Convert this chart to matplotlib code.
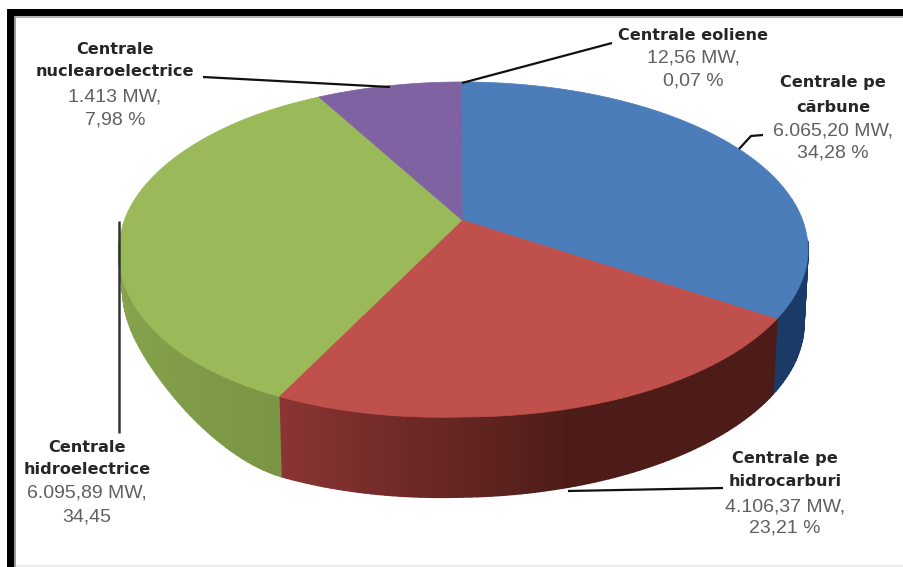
import numpy as np
import matplotlib
matplotlib.use("Agg")
import matplotlib.pyplot as plt
from matplotlib.collections import PolyCollection
from matplotlib.patches import Polygon, Rectangle
from matplotlib.colors import to_rgb

# Installed capacity by plant type, clockwise from twelve o'clock
categories = ["Centrale pe\ncărbune", "Centrale pe\nhidrocarburi", "Centrale\nhidroelectrice",
              "Centrale\nnuclearoelectrice", "Centrale eoliene"]
value_labels = ["6.065,20 MW,\n34,28 %", "4.106,37 MW,\n23,21 %", "6.095,89 MW,\n34,45",
                "1.413 MW,\n7,98 %", "12,56 MW,\n0,07 %"]
shares = [34.28, 23.21, 34.45, 7.98, 0.07]
top_colors = ["#4a7db9", "#bf504c", "#9aba59", "#7f62a1", "#6f6aa8"]

W, H = 904, 567
CX, CY = 462.0, 220.0
KP, AY, RX = -0.176, 123.6, 340.6

plt.rcParams["font.family"] = ["Liberation Sans", "DejaVu Sans"]
fig = plt.figure(figsize=(W / 100, H / 100), dpi=100, facecolor="white")
ax = fig.add_axes([0, 0, 1, 1])
ax.set_xlim(0, W)
ax.set_ylim(H, 0)
ax.axis("off")


def top_rim(theta):
    """Perspective projection of the disc rim; theta in degrees clockwise from the top."""
    t = np.radians(theta)
    x, y = np.sin(t), -np.cos(t)
    w = 1 + KP * y
    sag = 12 * np.clip(-x, 0, 1) * np.clip(y, 0, 1)
    pull = 3 * np.clip((-x - 0.7) / 0.3, 0, 1)
    return CX + RX * x / w + pull, CY + (AY * y) / w + (CY * (1 / w - 1)) + sag


def bottom_rim(theta):
    """Lower edge of the side wall under the rim point at the same angle."""
    t = np.radians(theta)
    x, y = np.sin(t), -np.cos(t)
    px, py = top_rim(theta)
    s = np.clip((-x - 0.45) / 0.5, 0, 1)
    s = s * s * (3 - 2 * s)
    h = 80 - 42 * s - 6 * np.clip(x, 0, 1)
    return CX + (px - CX) * 0.988, py + h


def red_side(theta):
    # Wall shading of the red wedge runs dark on the right to lighter on the left
    f = np.clip((theta - 165) / (207 - 165), 0, 1)
    return tuple((1 - f) * np.array(to_rgb("#4e1c18")) + f * np.array(to_rgb("#8b3533")))


def green_side(theta):
    f = np.clip((theta - 207) / 60, 0, 1)
    return tuple((1 - f) * np.array(to_rgb("#7a9644")) + f * np.array(to_rgb("#8aa84f")))


def side_color(i, theta):
    if i == 0:
        return to_rgb("#1b3a68")
    if i == 1:
        return red_side(theta)
    if i == 2:
        return green_side(theta)
    return to_rgb("#5f4a7c")


edges = np.concatenate([[0], np.cumsum(shares) / np.sum(shares) * 360])

# Side walls first, then the top face on top of them; only the front arc is drawn
quads, colors = [], []
for i in range(len(shares)):
    a0, a1 = edges[i], edges[i + 1]
    n = max(2, int((a1 - a0)))
    ts = np.linspace(a0, a1, n + 1)
    for t0, t1 in zip(ts[:-1], ts[1:]):
        if np.cos(np.radians((t0 + t1) / 2)) > -0.12:
            continue
        x0, y0 = top_rim(t0)
        x1, y1 = top_rim(t1)
        x2, y2 = bottom_rim(t1)
        x3, y3 = bottom_rim(t0)
        quads.append([(x0, y0), (x1, y1), (x2, y2), (x3, y3)])
        colors.append(side_color(i, (t0 + t1) / 2))
ax.add_collection(PolyCollection(quads, facecolors=colors, edgecolors=colors, linewidths=1.2,
                                 joinstyle="round", zorder=2))

for i in range(len(shares)):
    ts = np.linspace(edges[i], edges[i + 1], max(3, int((edges[i + 1] - edges[i]) * 3)))
    rx, ry = top_rim(ts)
    pts = np.column_stack([np.r_[CX, rx], np.r_[CY, ry]])
    ax.add_patch(Polygon(pts, closed=True, facecolor=top_colors[i], edgecolor=top_colors[i],
                         linewidth=0.5, zorder=3))

# Leader lines from the labels to the wedges
leaders = [
    ([763, 751, 739], [135, 136, 149], "#111111", 1.6),
    ([723, 568], [488, 491], "#111111", 1.6),
    ([119, 119], [221, 433], "#333333", 1.8),
    ([203, 390], [77, 87], "#111111", 1.6),
    ([612, 462], [43, 83], "#111111", 1.6),
]
for xs, ys, c, lw in leaders:
    ax.plot(xs, ys, color=c, lw=lw, solid_capstyle="butt", zorder=4)

# Label block centres and the mid-height of each text line
label_x = [833, 785, 87, 115, 693]
label_y = [(83, 108, 131, 153), (459, 482, 507, 528), (447, 470, 493, 517),
           (49, 72, 97, 120), (35, 58, 81)]
for i, name in enumerate(categories):
    head = name.split("\n")
    vals = value_labels[i].split("\n")
    ys = label_y[i]
    for s, y in zip(head, ys[:len(head)]):
        ax.text(label_x[i], y, s, ha="center", va="center", fontsize=11.6, fontweight="bold",
                family="DejaVu Sans", color="#262626", zorder=5)
    for s, y in zip(vals, ys[len(head):]):
        ax.text(label_x[i], y, s, ha="center", va="center", fontsize=14, color="#606060", zorder=5)

# Picture frame: heavy black on the top and left, faint at the bottom
ax.add_patch(Rectangle((7, 9), W - 7, 7, facecolor="black", edgecolor="none", zorder=6))
ax.add_patch(Rectangle((7, 9), 7, H - 9, facecolor="black", edgecolor="none", zorder=6))
ax.add_patch(Rectangle((14, 16), 2, H - 16, facecolor="#9a9a9a", edgecolor="none", zorder=6))
ax.add_patch(Rectangle((16, 16), W - 16, 2, facecolor="#b5b5b5", edgecolor="none", zorder=6))
ax.add_patch(Rectangle((16, 565), W - 16, 2, facecolor="#ececec", edgecolor="none", zorder=6))

fig.savefig("out.png", dpi=100, facecolor="white")
